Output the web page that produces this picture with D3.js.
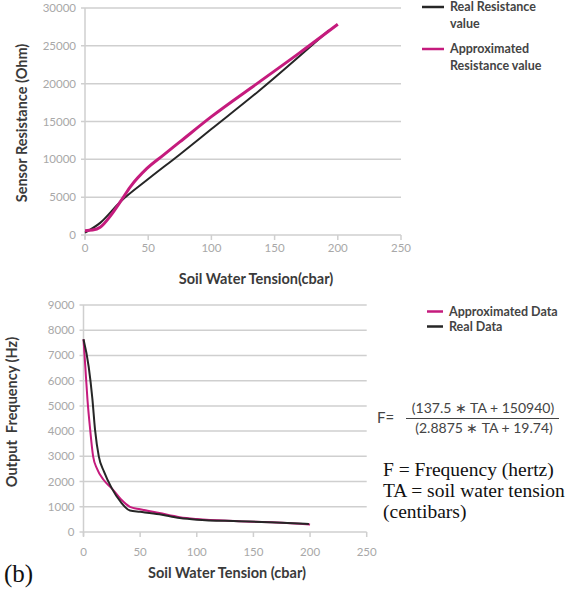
<!DOCTYPE html>
<html>
<head>
<meta charset="utf-8">
<script src="https://cdn.jsdelivr.net/npm/d3@7"></script>
<style>
  body { margin: 0; background: #fff; }
  svg { display: block; }
</style>
</head>
<body>
<svg id="chart" width="570" height="594"></svg>
<script>
// top panel: sensor resistance vs soil water tension
const resTicksX = [0, 50, 100, 150, 200, 250];
const resTicksY = [0, 5000, 10000, 15000, 20000, 25000, 30000];
const realResistance = [[0, 300], [12, 1600], [28, 4400], [49, 7260], [75, 10650], [100, 14000], [138, 19100], [193, 27060]];
const approxResistance = [[0, 570], [6, 650], [12, 1020], [20, 2500], [28, 4400], [36, 6400], [49, 8800], [62, 10560], [75, 12300], [100, 15640], [138, 20240], [170, 24100], [200, 27850]];

// bottom panel: output frequency vs soil water tension
const freqTicksX = [0, 50, 100, 150, 200, 250];
const freqTicksY = [0, 1000, 2000, 3000, 4000, 5000, 6000, 7000, 8000, 9000];
const approxFreq = [[0, 7640], [1.6, 6550], [3.5, 5250], [5.8, 4100], [8.5, 3000], [12, 2500], [17.5, 2080], [25, 1730], [33, 1300], [41, 1000], [50, 900], [67, 750], [85, 590], [100, 515], [137, 430], [170, 380], [200, 300]];
const realFreq = [[0, 7640], [4.6, 6550], [7.8, 5300], [10.2, 4050], [13.5, 3000], [18, 2400], [25, 1730], [33, 1180], [41, 850], [50, 800], [67, 700], [85, 555], [100, 490], [137, 430], [170, 380], [199, 317]];

const svg = d3.select("#chart");
const sans = "Lato, 'Open Sans', sans-serif";
const pink = "#c51b7d";
const dark = "#262626";
const grid = "#cfcfcf";
const tickGrey = "#a8a8a8";

function panel(opts) {
  const x = d3.scaleLinear().domain([0, 250]).range(opts.xr);
  const y = d3.scaleLinear().domain(opts.yd).range(opts.yr);
  const g = svg.append("g");

  // horizontal grid
  g.selectAll(".grid").data(opts.yTicks).join("line")
    .attr("x1", x(0) - 4).attr("x2", x(250))
    .attr("y1", d => y(d)).attr("y2", d => y(d))
    .attr("stroke", grid).attr("stroke-width", 1.5);

  // left axis line
  g.append("line")
    .attr("x1", x(0)).attr("x2", x(0))
    .attr("y1", y(opts.yd[1])).attr("y2", y(0) + 4)
    .attr("stroke", grid).attr("stroke-width", 1.5);

  // y tick labels
  g.selectAll(".yl").data(opts.yTicks).join("text")
    .attr("x", x(0) - 9).attr("y", d => y(d) + 4)
    .attr("text-anchor", "end")
    .attr("font-family", sans).attr("font-size", 11.5)
    .attr("fill", tickGrey)
    .text(d => d);

  // x ticks + labels
  g.selectAll(".xt").data(opts.xTicks).join("line")
    .attr("x1", d => x(d)).attr("x2", d => x(d))
    .attr("y1", y(0)).attr("y2", y(0) + 5)
    .attr("stroke", grid).attr("stroke-width", 1.5);
  g.selectAll(".xl").data(opts.xTicks).join("text")
    .attr("x", d => x(d)).attr("y", y(0) + opts.xLabelDy)
    .attr("text-anchor", "middle")
    .attr("font-family", sans).attr("font-size", 11.5)
    .attr("fill", tickGrey)
    .text(d => d);

  const line = d3.line().x(d => x(d[0])).y(d => y(d[1])).curve(d3.curveMonotoneX);
  opts.series.forEach(s => {
    g.append("path").datum(s.data)
      .attr("d", line)
      .attr("fill", "none")
      .attr("stroke", s.color)
      .attr("stroke-width", s.width)
      .attr("stroke-linejoin", "round");
  });

  // axis titles
  g.append("text")
    .attr("x", opts.xTitle[1]).attr("y", opts.xTitle[2])
    .attr("text-anchor", "middle")
    .attr("font-family", sans).attr("font-weight", 700).attr("font-size", 14.5)
    .attr("fill", "#3a3a3a")
    .text(opts.xTitle[0]);
  g.append("text")
    .attr("transform", `translate(${opts.yTitle[1]},${opts.yTitle[2]}) rotate(-90)`)
    .attr("text-anchor", "middle")
    .attr("font-family", sans).attr("font-weight", 700).attr("font-size", 14.5)
    .attr("fill", "#3a3a3a")
    .attr("xml:space", "preserve")
    .text(opts.yTitle[0]);
  return g;
}

panel({
  xr: [85, 401], yd: [0, 30000], yr: [235, 8],
  xTicks: resTicksX, yTicks: resTicksY, xLabelDy: 17,
  series: [
    { data: realResistance, color: dark, width: 2 },
    { data: approxResistance, color: pink, width: 3 }
  ],
  xTitle: ["Soil Water Tension(cbar)", 256, 284],
  yTitle: ["Sensor Resistance (Ohm)", 27, 123]
});

panel({
  xr: [83.5, 366.7], yd: [0, 9000], yr: [532, 305],
  xTicks: freqTicksX, yTicks: freqTicksY, xLabelDy: 24,
  series: [
    { data: approxFreq, color: pink, width: 2 },
    { data: realFreq, color: dark, width: 2 }
  ],
  xTitle: ["Soil Water Tension (cbar)", 227, 578],
  yTitle: ["Output  Frequency (Hz)", 17, 412]
});

// legends
function legendEntry(x, y, color, lines, size, len) {
  svg.append("line")
    .attr("x1", x).attr("x2", x + len).attr("y1", y).attr("y2", y)
    .attr("stroke", color).attr("stroke-width", 2.5);
  const t = svg.append("text")
    .attr("x", x + len + 6).attr("y", y + 4)
    .attr("font-family", sans).attr("font-weight", 700).attr("font-size", size)
    .attr("fill", "#444");
  lines.forEach((s, i) => t.append("tspan").attr("x", x + len + 6).attr("dy", i ? 16.5 : 0).text(s));
}
legendEntry(422, 7, dark, ["Real Resistance", "value"], 12.5, 22);
legendEntry(422, 49, pink, ["Approximated", "Resistance value"], 12.5, 22);
legendEntry(427, 311.5, pink, ["Approximated Data"], 12.5, 16);
legendEntry(427, 326.5, dark, ["Real Data"], 12.5, 16);

// formula
const fx = svg.append("g").attr("font-family", sans).attr("font-size", 14).attr("fill", "#444");
fx.append("text").attr("x", 377).attr("y", 423).attr("font-size", 15).text("F=");
fx.append("text").attr("x", 483).attr("y", 413).attr("text-anchor", "middle").text("(137.5 \u2217 TA + 150940)");
fx.append("line").attr("x1", 406).attr("x2", 559).attr("y1", 418.5).attr("y2", 418.5)
  .attr("stroke", "#444").attr("stroke-width", 1);
fx.append("text").attr("x", 484).attr("y", 433).attr("text-anchor", "middle").text("(2.8875 \u2217 TA + 19.74)");

const serif = svg.append("g").attr("font-family", "'Liberation Serif', 'Times New Roman', serif")
  .attr("font-size", 19.5).attr("fill", "#111");
serif.append("text").attr("x", 383).attr("y", 476).text("F = Frequency (hertz)");
serif.append("text").attr("x", 383).attr("y", 497).text("TA = soil water tension");
serif.append("text").attr("x", 383).attr("y", 518).text("(centibars)");
serif.append("text").attr("x", 4).attr("y", 582).attr("font-size", 25).text("(b)");
</script>
</body>
</html>
